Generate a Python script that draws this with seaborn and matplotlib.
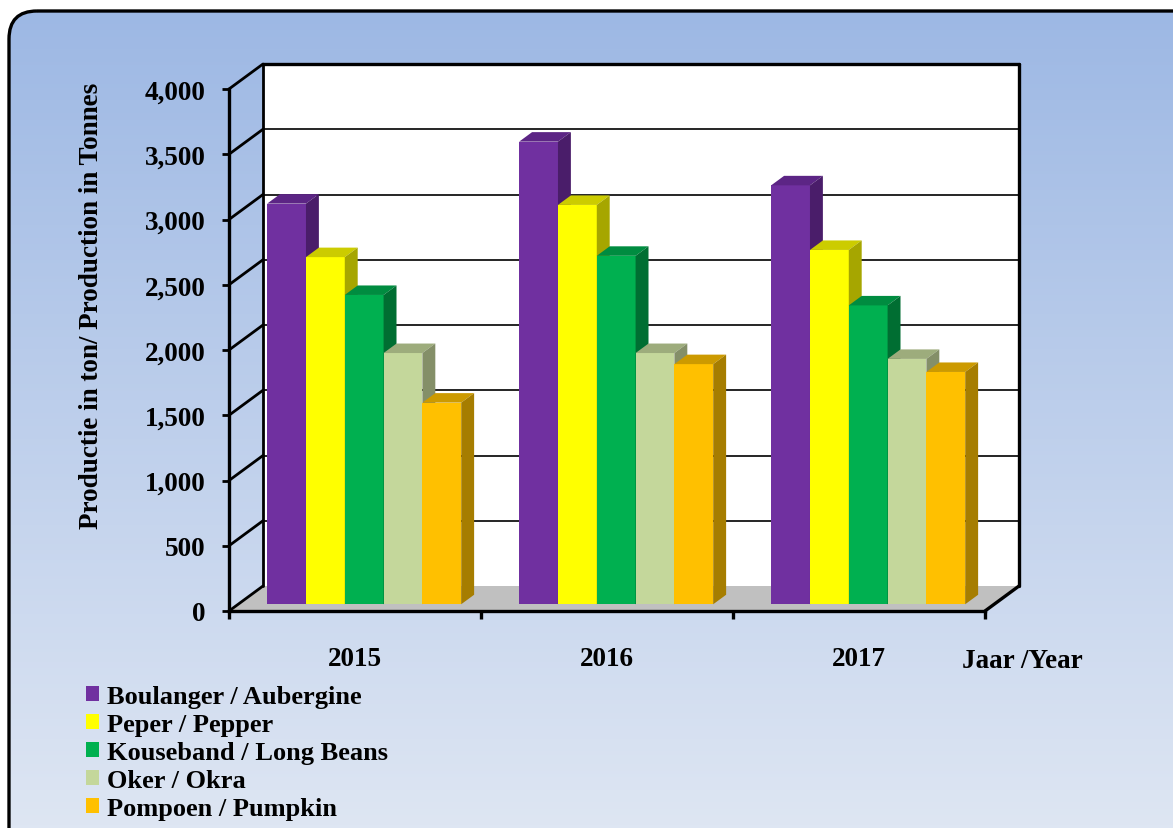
import numpy as np
import pandas as pd
import matplotlib
matplotlib.use("Agg")
import matplotlib.pyplot as plt
import seaborn as sns
from matplotlib.patches import FancyBboxPatch, Polygon

# ====================================
# DATA
# ====================================

years = ["2015", "2016", "2017"]
crops = [
    "Boulanger / Aubergine",
    "Peper / Pepper",
    "Kouseband / Long Beans",
    "Oker / Okra",
    "Pompoen / Pumpkin",
]
aubergine = [3070, 3545, 3210]
pepper = [2660, 3060, 2715]
long_beans = [2370, 2670, 2290]
okra = [1925, 1925, 1880]
pumpkin = [1545, 1840, 1780]

front_colors = ["#7030A0", "#FFFF00", "#00B050", "#C4D79B", "#FFC000"]
top_colors = ["#5C2585", "#CCCC00", "#008C40", "#9DAC7C", "#CC9A00"]
side_colors = ["#4A1D6A", "#A6A600", "#006E32", "#848F68", "#A67D00"]

df = pd.DataFrame({
    "Year": np.repeat(years, len(crops)),
    "Crop": crops * len(years),
    "Production": np.array([aubergine, pepper, long_beans, okra, pumpkin]).T.ravel(),
})

# ====================================
# FIGURE + BACKGROUND
# ====================================

sns.set_theme(style="white")
plt.rcParams["font.family"] = ["Liberation Serif", "DejaVu Serif"]
plt.rcParams["font.weight"] = "bold"
plt.rcParams["text.color"] = "black"
plt.rcParams["axes.labelcolor"] = "black"
plt.rcParams["xtick.color"] = "black"
plt.rcParams["ytick.color"] = "black"

FS = 19.5
W, H = 1173, 829
fig = plt.figure(figsize=(W / 100, H / 100), dpi=100)
fig.patch.set_facecolor("white")

bg = fig.add_axes([0, 0, 1, 1], zorder=0)
bg.set_xlim(0, W)
bg.set_ylim(H, 0)
bg.axis("off")
frame = FancyBboxPatch((9, 12), 1250, 900,
                       boxstyle="round,pad=0,rounding_size=28",
                       facecolor="none", edgecolor="black", linewidth=2.4)
bg.add_patch(frame)
top_c = np.array([157, 184, 228]) / 255
bot_c = np.array([222, 230, 243]) / 255
t = np.linspace(0, 1, 256)[:, None, None]
grad = top_c * (1 - t) + bot_c * t
grad = np.repeat(grad, 2, axis=1)
img = bg.imshow(grad, extent=[0, W, H, 12], aspect="auto", zorder=0)
img.set_clip_path(frame)

# ====================================
# MAIN AXES (front plane)
# ====================================

x0, x1 = 229, 985
y0, y1 = 612, 90
ax = fig.add_axes([x0 / W, 1 - y0 / H, (x1 - x0) / W, (y0 - y1) / H], zorder=1)
ax.set_facecolor("none")

sns.barplot(data=df, x="Year", y="Production", hue="Crop",
            palette=front_colors, width=0.77, saturation=1,
            errorbar=None, linewidth=0, ax=ax)

ax.set_xlim(-0.5, 2.5)
ax.set_ylim(0, 4000)

# depth (full box depth) in data units
px_x = (x1 - x0) / 3
px_y = (y0 - y1) / 4000
DX = 34 / px_x
DY = 25 / px_y

# floor
floor = Polygon([(-0.5, 0), (2.5, 0), (2.5 + DX, DY), (-0.5 + DX, DY)],
                closed=True, facecolor="#C0C0C0", edgecolor="none",
                zorder=0.5, clip_on=False)
ax.add_patch(floor)
# back wall
wall = Polygon([(-0.5 + DX, DY), (2.5 + DX, DY), (2.5 + DX, 4000 + DY), (-0.5 + DX, 4000 + DY)],
               closed=True, facecolor="white", edgecolor="none",
               zorder=0.4, clip_on=False)
ax.add_patch(wall)

for v in range(500, 4000, 500):
    ax.plot([-0.5 + DX, 2.5 + DX], [v + DY, v + DY], color="black", lw=1.2,
            zorder=0.6, clip_on=False)
for v in range(0, 4001, 500):
    ax.plot([-0.5, -0.5 + DX], [v, v + DY], color="black", lw=2.0,
            zorder=0.7, clip_on=False)
ax.plot([-0.5 + DX, -0.5 + DX], [DY, 4000 + DY], color="black", lw=2.0, zorder=0.7, clip_on=False)
ax.plot([-0.5 + DX, 2.5 + DX], [4000 + DY, 4000 + DY], color="black", lw=2.4, zorder=0.7, clip_on=False)
ax.plot([2.5 + DX, 2.5 + DX], [DY, 4000 + DY], color="black", lw=2.4, zorder=0.7, clip_on=False)
ax.plot([2.5, 2.5 + DX], [0, DY], color="black", lw=2.4, zorder=0.7, clip_on=False)

# ====================================
# 3D BARS
# ====================================

d0, d1 = 0.27, 0.65
bars = []
for ci, container in enumerate(ax.containers):
    for bar in container:
        bars.append((bar.get_x(), ci, bar))
bars.sort(key=lambda b: b[0])

for z, (bx, ci, bar) in enumerate(bars):
    w = bar.get_width()
    h = bar.get_height()
    ox, oy = d0 * DX, d0 * DY
    ddx, ddy = (d1 - d0) * DX, (d1 - d0) * DY
    bar.set_x(bx + ox)
    bar.set_y(oy)
    bar.set_zorder(2 + z)
    bar.set_clip_on(False)
    x_ = bx + ox
    top = Polygon([(x_, oy + h), (x_ + w, oy + h), (x_ + w + ddx, oy + h + ddy), (x_ + ddx, oy + h + ddy)],
                  closed=True, facecolor=top_colors[ci], edgecolor="none",
                  zorder=2 + z, clip_on=False)
    side = Polygon([(x_ + w, oy), (x_ + w, oy + h), (x_ + w + ddx, oy + h + ddy), (x_ + w + ddx, oy + ddy)],
                   closed=True, facecolor=side_colors[ci], edgecolor="none",
                   zorder=2 + z, clip_on=False)
    ax.add_patch(top)
    ax.add_patch(side)

# ====================================
# AXES STYLE
# ====================================

for s in ["top", "right"]:
    ax.spines[s].set_visible(False)
for s in ["left", "bottom"]:
    ax.spines[s].set_linewidth(2.4)
    ax.spines[s].set_color("black")
    ax.spines[s].set_zorder(50)

ax.set_yticks(range(0, 4001, 500))
ax.set_yticklabels([f"{v:,}" for v in range(0, 4001, 500)], fontsize=FS, fontweight="bold")
ax.tick_params(axis="y", direction="out", length=5, width=2, color="black",
               labelcolor="black", pad=12, left=True)

ax.set_xticks([-0.5, 0.5, 1.5, 2.5])
ax.set_xticklabels([])
ax.tick_params(axis="x", which="major", direction="out", length=6, width=2.4, color="black", bottom=True)
ax.set_xticks([0, 1, 2], years, minor=True)
ax.tick_params(axis="x", which="minor", length=0, pad=25, labelsize=FS, labelcolor="black")
for lbl in ax.get_xticklabels(minor=True):
    lbl.set_fontweight("bold")

ax.set_xlabel("")
ax.set_ylabel("")
fig.text(92 / W, 1 - 306 / H, "Productie in ton/ Production in Tonnes",
         rotation=90, ha="center", va="center", fontsize=FS, fontweight="bold", color="black")
fig.text(1022 / W, 1 - 662 / H, "Jaar /Year", ha="center", va="center",
         fontsize=FS, fontweight="bold", color="black")

# legend
handles, labels = ax.get_legend_handles_labels()
if ax.get_legend() is not None:
    ax.get_legend().remove()
leg = fig.legend(handles, labels, loc="upper left", bbox_to_anchor=(86 / W, 1 - 686 / H),
                 frameon=False, prop={"weight": "bold", "size": 19},
                 handlelength=0.5, handleheight=0.5, handletextpad=0.3,
                 labelspacing=0.19, borderpad=0, borderaxespad=0)
for txt in leg.get_texts():
    txt.set_color("black")

fig.savefig("out.png", dpi=100)
